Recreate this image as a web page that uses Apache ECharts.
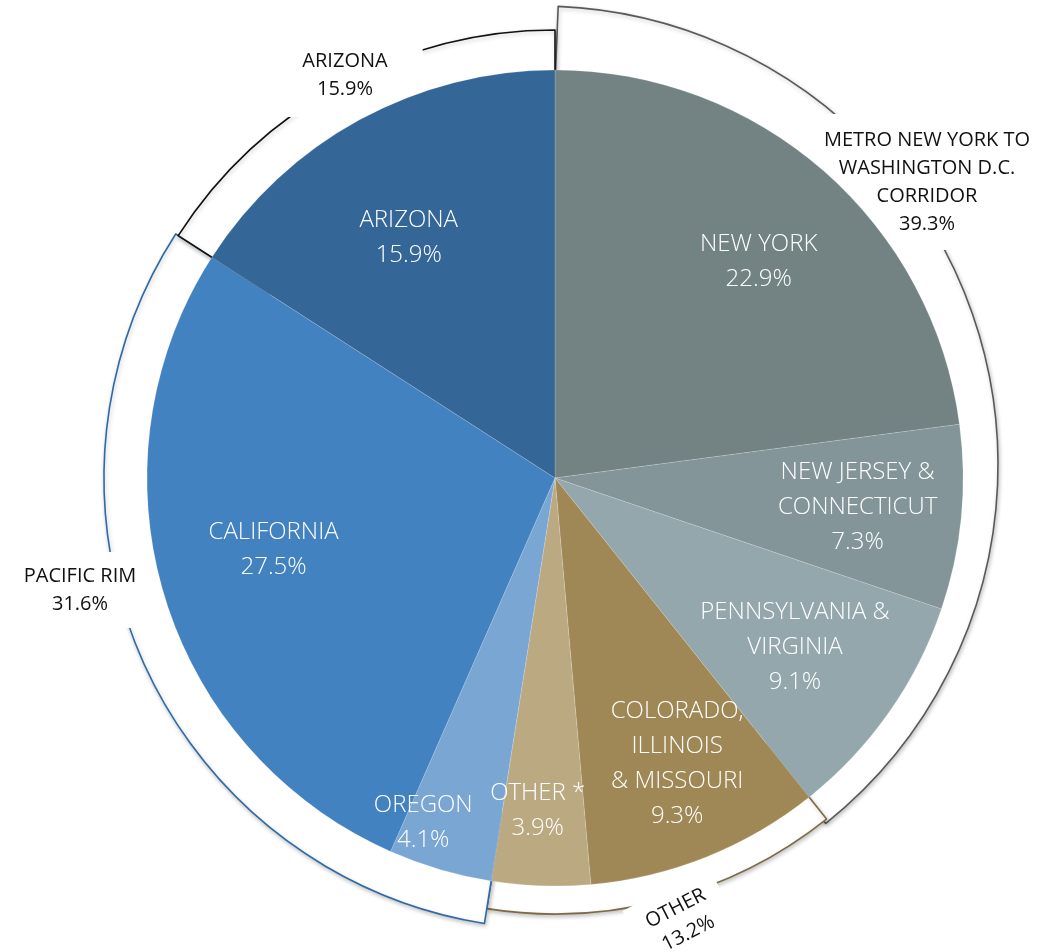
<!DOCTYPE html>
<html>
<head>
<meta charset="utf-8">
<script src="https://cdn.jsdelivr.net/npm/echarts@6/dist/echarts.min.js"></script>
<style>
html, body { margin: 0; padding: 0; background: #fff; }
#chart { width: 1059px; height: 952px; }
</style>
</head>
<body>
<div id="chart"></div>
<script>
// inner pie: regions, clockwise from 12 o'clock
var regionNames = ['NEW YORK', 'NEW JERSEY &\nCONNECTICUT', 'PENNSYLVANIA &\nVIRGINIA', 'COLORADO,\nILLINOIS\n& MISSOURI', 'OTHER *', 'OREGON', 'CALIFORNIA', 'ARIZONA'];
var regionShares = [22.9, 7.3, 9.1, 9.3, 3.9, 4.1, 27.5, 15.9];

// outer ring: groups of regions
var groupNames = ['METRO NEW YORK TO\nWASHINGTON D.C.\nCORRIDOR', 'OTHER', 'PACIFIC RIM', 'ARIZONA'];
var groupShares = [39.3, 13.2, 31.6, 15.9];

// styles
var pieCenter = [555, 478];
var pieRadius = 408;
var regionColors = ['#738384', '#839598', '#93a7ac', '#9f8856', '#bba982', '#7aa6d4', '#4382c0', '#346798'];
var regionNudge = [[8, 7], [7, 0], [-3, -2], [12, 10], [-7, 36], [-48, 60], [3, -14], [-4, 20]];

var groupStyle = [
    { color: '#5a5a5a', center: [539, 465], r: 459, turn: 2.4, scale: 0.982, at: [927, 182], rotate: 0, pad: [12, 6] },
    { color: '#7d6b45', center: pieCenter, r: 436, turn: 0, scale: 1, at: [682, 921], rotate: 27, pad: [8, 16] },
    { color: '#2f6aa8', center: pieCenter, r: 451, turn: 0, scale: 1, at: [80, 590], rotate: 0, pad: [10, 8] },
    { color: '#111111', center: pieCenter, r: 448, turn: 0, scale: 1, at: [345, 75], rotate: 0, pad: [14, 35] }
];

var fontFamily = '"Open Sans", "Noto Sans", sans-serif';

function sum(arr) {
    var s = 0;
    for (var i = 0; i < arr.length; i++) s += arr[i];
    return s;
}

var groupTotal = sum(groupShares);

function ringSeries(i) {
    var st = groupStyle[i];
    var before = sum(groupShares.slice(0, i));
    var start = 90 - (before / groupTotal * 360 + st.turn);
    return {
        type: 'pie',
        z: 1,
        silent: true,
        center: st.center,
        radius: [340, st.r],
        startAngle: start,
        endAngle: start - 360 * st.scale,
        clockwise: true,
        avoidLabelOverlap: false,
        labelLine: { show: false },
        label: {
            show: true,
            position: 'inside',
            formatter: '{b}\n{c}%',
            color: '#111',
            fontFamily: fontFamily,
            fontSize: 20,
            lineHeight: 28,
            backgroundColor: '#fff',
            padding: st.pad
        },
        labelLayout: function (params) {
            if (params.dataIndex !== 0) return {};
            return { x: st.at[0], y: st.at[1], rotate: st.rotate };
        },
        itemStyle: {
            color: '#fff',
            borderColor: st.color,
            borderWidth: 1.6,
            shadowBlur: 4,
            shadowColor: 'rgba(0,0,0,0.22)',
            shadowOffsetX: 1,
            shadowOffsetY: 2
        },
        data: [
            { name: groupNames[i], value: groupShares[i] },
            {
                name: '',
                value: groupTotal - groupShares[i],
                label: { show: false },
                itemStyle: { color: 'rgba(0,0,0,0)', borderWidth: 0, shadowBlur: 0, shadowOffsetX: 0, shadowOffsetY: 0 }
            }
        ]
    };
}

var regionData = [];
for (var i = 0; i < regionNames.length; i++) {
    regionData.push({ name: regionNames[i], value: regionShares[i], itemStyle: { color: regionColors[i] } });
}

var series = [];
for (var g = 0; g < groupNames.length; g++) series.push(ringSeries(g));

series.push({
    type: 'pie',
    z: 2,
    silent: true,
    center: pieCenter,
    radius: [0, pieRadius],
    startAngle: 90,
    clockwise: true,
    label: { show: false },
    labelLine: { show: false },
    itemStyle: { borderColor: 'rgba(255,255,255,0.2)', borderWidth: 0.8 },
    data: regionData
});

// label-only copy of the regions, to put the texts further out than mid radius
series.push({
    type: 'pie',
    z: 3,
    silent: true,
    center: pieCenter,
    radius: [180, pieRadius],
    startAngle: 90,
    clockwise: true,
    avoidLabelOverlap: false,
    labelLine: { show: false },
    itemStyle: { color: 'rgba(0,0,0,0)', borderWidth: 0 },
    label: {
        show: true,
        position: 'inside',
        formatter: '{b}\n{c}%',
        color: '#fff',
        fontFamily: fontFamily,
        fontWeight: 300,
        fontSize: 24,
        lineHeight: 35
    },
    labelLayout: function (params) {
        var n = regionNudge[params.dataIndex];
        return { dx: n[0], dy: n[1] };
    },
    data: regionShares.map(function (v, k) { return { name: regionNames[k], value: v }; })
});

var chart = echarts.init(document.getElementById('chart'), null, { renderer: 'canvas' });
chart.setOption({
    backgroundColor: '#fff',
    animation: false,
    series: series
});
</script>
</body>
</html>
